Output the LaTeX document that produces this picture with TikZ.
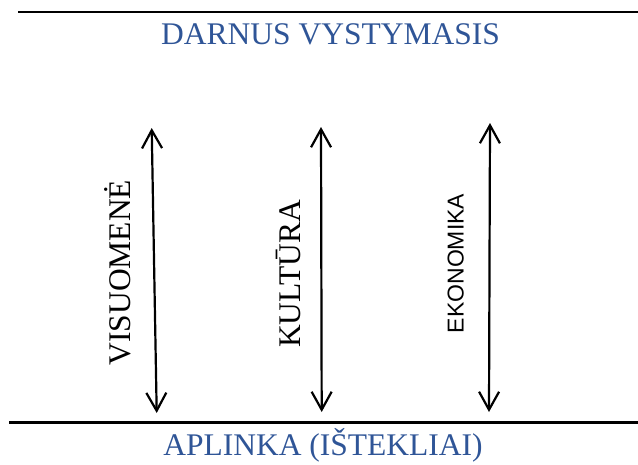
\documentclass[tikz,border=0pt]{standalone}
\usepackage{fontspec}
\setmainfont{Liberation Serif}
\newfontfamily\sansf{Liberation Sans}
\usetikzlibrary{arrows.meta}
\definecolor{headblue}{RGB}{47,85,151}
\begin{document}
\begin{tikzpicture}[x=1pt,y=-1pt,
  rule/.style={line width=2.4pt},
  dbl/.style={line width=2.2pt,{Straight Barb[length=18pt,width=20pt,line width=2.2pt]}-{Straight Barb[length=18pt,width=20pt,line width=2.2pt]}},
  head/.style={text=headblue,font=\fontsize{31.5}{36}\selectfont,anchor=base,inner sep=0pt},
  vlab/.style={rotate=90,anchor=base,inner sep=0pt,font=\fontsize{31.5}{36}\selectfont},
  vlabs/.style={rotate=90,anchor=base,inner sep=0pt,font=\sansf\fontsize{23}{26}\selectfont}]
\useasboundingbox (0,0) rectangle (638,464);
\coordinate (tl) at (18,12);
\coordinate (tr) at (638,12);
\coordinate (bl) at (9,422.5);
\coordinate (br) at (638,422.5);
\draw[rule] (tl) -- (tr);
\draw[rule] (bl) -- (br);
\node[head] (top) at (330.5,44) {DARNUS VYSTYMASIS};
\node[head] (bot) at (323,455) {APLINKA (IŠTEKLIAI)};
\coordinate (a1t) at (151.7,128);
\coordinate (a1b) at (156.7,413);
\coordinate (a2t) at (321,127);
\coordinate (a2b) at (321.7,412);
\coordinate (a3t) at (490,123);
\coordinate (a3b) at (489,412);
\draw[dbl] (a1t) -- (a1b);
\draw[dbl] (a2t) -- (a2b);
\draw[dbl] (a3t) -- (a3b);
\node[vlab] (l1) at (130.5,272.5) {VISUOMENĖ};
\node[vlab] (l2) at (300,274) {KULTŪRA};
\node[vlabs] (l3) at (463.5,263.5) {EKONOMIKA};
\end{tikzpicture}
\end{document}
